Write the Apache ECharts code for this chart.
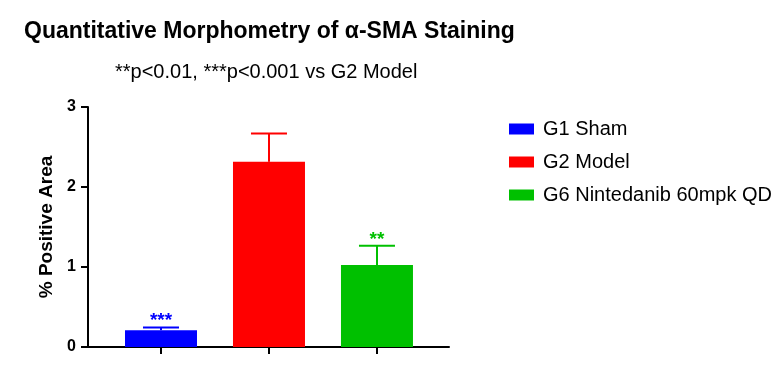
<!DOCTYPE html>
<html>
<head>
<meta charset="utf-8">
<script src="https://cdn.jsdelivr.net/npm/echarts@6/dist/echarts.min.js"></script>
<style>html,body{margin:0;padding:0;background:#fff}#c{width:782px;height:373px}</style>
</head>
<body>
<div id="c"></div>
<script>
const groups = ['G1 Sham', 'G2 Model', 'G6 Nintedanib 60mpk QD'];
const means = [0.21, 2.315, 1.025];
const sems = [0.033, 0.355, 0.24];
const stars = ['***', '', '**'];
const colors = ['#0000FF', '#FF0000', '#00C000'];
const yTicks = [0, 1, 2, 3];

const FONT = '"Liberation Sans", Arial, sans-serif';
const chart = echarts.init(document.getElementById('c'), null, {renderer: 'canvas'});

const barSeries = groups.map((g, i) => ({
  name: g,
  type: 'bar',
  xAxisIndex: 0,
  yAxisIndex: 0,
  barWidth: 72,
  barGap: '-100%',
  itemStyle: {color: colors[i]},
  data: [[i, means[i]]],
  z: 2
}));

const errData = groups.map((g, i) => [i, means[i], sems[i], i]);

const option = {
  animation: false,
  backgroundColor: '#fff',
  title: [
    {text: 'Quantitative Morphometry of α-SMA Staining', left: 19, top: 15,
     textStyle: {fontFamily: FONT, fontWeight: 'bold', fontSize: 23, color: '#000'}},
    {text: '**p<0.01, ***p<0.001 vs G2 Model', left: 110, top: 57,
     textStyle: {fontFamily: FONT, fontWeight: 'normal', fontSize: 20, color: '#000'}}
  ],
  legend: {
    orient: 'vertical',
    left: 504,
    top: 114,
    itemWidth: 25,
    itemHeight: 11,
    itemGap: 13,
    icon: 'rect',
    data: groups,
    textStyle: {fontFamily: FONT, fontSize: 20, color: '#000', padding: [0, 0, 0, 4], lineHeight: 20}
  },
  grid: {left: 88, top: 107, width: 361, bottom: 26, containLabel: false},
  xAxis: {
    type: 'value',
    min: -0.676,
    max: 2.667,
    splitLine: {show: false},
    axisLine: {show: true, onZero: false, lineStyle: {color: '#000', width: 2}},
    axisTick: {show: true, customValues: [0, 1, 2], length: 7, lineStyle: {color: '#000', width: 2}},
    axisLabel: {show: false, customValues: [0, 1, 2]}
  },
  yAxis: {
    type: 'value',
    min: 0,
    max: 3,
    interval: 1,
    name: '% Positive Area',
    nameLocation: 'middle',
    nameGap: 32,
    nameTextStyle: {fontFamily: FONT, fontWeight: 'bold', fontSize: 19, color: '#000'},
    splitLine: {show: false},
    axisLine: {show: true, onZero: false, lineStyle: {color: '#000', width: 2}},
    axisTick: {show: true, length: 7, lineStyle: {color: '#000', width: 2}},
    axisLabel: {margin: 12, fontFamily: FONT, fontWeight: 'bold', fontSize: 16, color: '#000',
      formatter: v => yTicks.includes(v) ? String(v) : ''}
  },
  series: barSeries.concat([{
    type: 'custom',
    name: 'err',
    xAxisIndex: 0,
    yAxisIndex: 0,
    z: 3,
    data: errData,
    renderItem: function (params, api) {
      const x = api.value(0), m = api.value(1), e = api.value(2), idx = api.value(3);
      const base = api.coord([x, m]);
      const top = api.coord([x, m + e]);
      const c = colors[idx];
      const half = 18;
      const children = [
        {type: 'line', shape: {x1: base[0], y1: base[1], x2: top[0], y2: top[1]}, style: {stroke: c, lineWidth: 2}},
        {type: 'line', shape: {x1: top[0] - half, y1: top[1], x2: top[0] + half, y2: top[1]}, style: {stroke: c, lineWidth: 2}}
      ];
      if (stars[idx]) {
        children.push({type: 'text', style: {text: stars[idx], x: top[0], y: top[1] + 3, align: 'center', verticalAlign: 'bottom',
          fill: c, font: 'bold 19px ' + FONT}});
      }
      return {type: 'group', children: children};
    }
  }])
};
chart.setOption(option);
</script>
</body>
</html>
